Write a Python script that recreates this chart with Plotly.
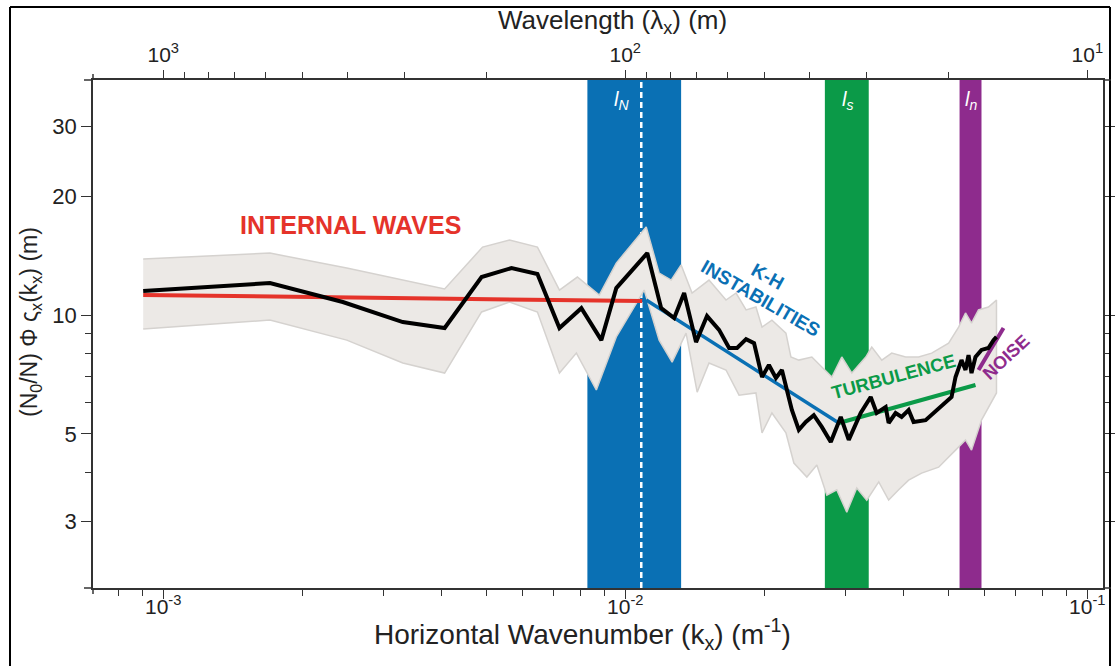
import numpy as np
import plotly.graph_objects as go

# ---------------- data ----------------
k_mean = [0.000905, 0.001702, 0.002447, 0.003300, 0.004065, 0.004887, 0.005673, 0.006455,
          0.007204, 0.008035, 0.008875, 0.009563, 0.01116, 0.01196, 0.01276, 0.01341,
          0.01423, 0.01503, 0.01596, 0.01678, 0.01746, 0.01826, 0.01900, 0.01977,
          0.02046, 0.02119, 0.02183, 0.02294, 0.02375, 0.02459, 0.02559, 0.02663,
          0.02785, 0.02927, 0.03046, 0.03233, 0.03398, 0.03501, 0.03661, 0.03716,
          0.03847, 0.03964, 0.04105, 0.04208, 0.04467, 0.04934, 0.05084, 0.05186,
          0.05343, 0.05450, 0.05533, 0.05616, 0.05728, 0.05902, 0.06110, 0.06266, 0.06360]
v_mean = [11.50, 12.05, 10.79, 9.60, 9.27, 12.48, 13.15, 12.70,
          9.27, 10.41, 8.64, 11.70, 14.35, 10.41, 9.83, 11.37,
          8.54, 9.94, 9.17, 8.25, 8.25, 8.69, 8.49, 6.97,
          7.47, 6.93, 7.26, 5.75, 5.12, 5.36, 5.58, 5.21,
          4.77, 5.52, 4.83, 5.65, 6.20, 5.65, 5.85, 5.33,
          5.65, 5.52, 5.75, 5.36, 5.42, 5.99, 6.20, 6.97,
          7.69, 7.26, 7.92, 7.13, 7.83, 8.16, 8.25, 8.64, 8.80]

k_upper = [0.000905, 0.001702, 0.002496, 0.004065, 0.004911, 0.005617, 0.006455, 0.007204,
           0.007877, 0.008786, 0.009563, 0.01110, 0.01184, 0.01257, 0.01321, 0.01395,
           0.01518, 0.01652, 0.01737, 0.01826, 0.01918, 0.01977, 0.02077, 0.02227,
           0.02283, 0.02375, 0.02534, 0.02663, 0.02800, 0.02942, 0.03093, 0.03316,
           0.03416, 0.03591, 0.03773, 0.04045, 0.04315, 0.04605, 0.05010, 0.05266,
           0.05450, 0.05616, 0.05815, 0.06110, 0.06360]
v_upper = [13.86, 14.35, 13.15, 11.64, 14.86, 15.48, 14.86, 11.57,
           12.48, 11.24, 13.54, 16.70, 12.77, 12.26, 13.39, 11.37,
           12.26, 10.91, 11.37, 10.30, 10.48, 9.32, 9.71, 9.00,
           7.83, 7.69, 7.83, 7.38, 6.97, 7.83, 7.13, 7.83,
           8.30, 7.69, 8.01, 7.83, 7.83, 8.01, 8.49, 9.32,
           10.12, 9.54, 10.30, 10.48, 10.91]

k_lower = [0.000905, 0.001702, 0.002496, 0.003300, 0.004065, 0.004887, 0.005617, 0.006455,
           0.007204, 0.007838, 0.008658, 0.009563, 0.01099, 0.01184, 0.01263, 0.01354,
           0.01431, 0.01518, 0.01652, 0.01763, 0.01918, 0.01977, 0.02077, 0.02227,
           0.02317, 0.02472, 0.02598, 0.02731, 0.02870, 0.03016, 0.03170, 0.03332,
           0.03537, 0.03716, 0.03906, 0.04105, 0.04380, 0.04767, 0.05186, 0.05450,
           0.05616, 0.05902, 0.06360]
v_lower = [9.22, 9.71, 8.64, 7.56, 7.13, 10.18, 10.79, 10.18,
           7.13, 8.01, 6.46, 8.80, 11.57, 8.64, 7.60, 9.00,
           6.38, 7.56, 7.26, 6.27, 6.35, 5.03, 5.65, 5.03,
           4.22, 3.89, 4.17, 3.50, 3.61, 3.17, 3.65, 3.40,
           3.78, 3.40, 3.61, 3.82, 3.98, 4.12, 4.55, 4.83,
           4.55, 5.42, 6.35]

iw_k = [0.000905, 0.01088]      # internal waves fit
iw_v = [11.24, 10.85]
kh_k = [0.01110, 0.02899]       # K-H instabilities fit
kh_v = [10.91, 5.33]
turb_k = [0.02899, 0.05728]     # turbulence fit
turb_v = [5.33, 6.65]
noise_k = [0.05815, 0.06586]    # noise fit
noise_v = [7.26, 9.27]

band_lN = [0.00828, 0.01321]
band_ls = [0.02704, 0.03365]
band_ln = [0.05291, 0.05902]
lN_line = 0.01083

x_tickvals = [1e-3, 1e-2, 1e-1]
x_ticktext = ["10<sup>-3</sup>", "10<sup>-2</sup>", "10<sup>-1</sup>"]
lam_tickvals = [1000, 100, 10]
lam_ticktext = ["10<sup>3</sup>", "10<sup>2</sup>", "10<sup>1</sup>"]
lam_minor = [900, 800, 700, 600, 500, 400, 300, 200, 90, 80, 70, 60, 50, 40, 30, 20]
y_tickvals = [3, 5, 10, 20, 30]
y_minor = [4, 6, 7, 8, 9]

# ---------------- colours ----------------
C_RED = "#e5332a"
C_BLUE = "#0a70b4"
C_GREEN = "#0b9a48"
C_PURPLE = "#8e2b8d"
C_FILL = "#ece9e6"
C_EDGE = "#d5d2cf"
FONT = "Liberation Sans, Arial, sans-serif"
TXT = "#222222"
AX = "#333333"

# pixel helpers for paper coordinates (plot area 93..1103 x 80..588)
L, R, T, B = 93, 1103, 80, 588
def px(x):
    return (x - L) / (R - L)
def py(y):
    return (B - y) / (B - T)

fig = go.Figure()

# uncertainty envelope
fig.add_trace(go.Scatter(
    x=k_upper + k_lower[::-1], y=v_upper + v_lower[::-1],
    mode="lines", fill="toself", fillcolor=C_FILL,
    line=dict(color=C_EDGE, width=1.5), hoverinfo="skip", showlegend=False))

for kk, vv, col, w in [(iw_k, iw_v, C_RED, 4), (kh_k, kh_v, C_BLUE, 3.5),
                       (turb_k, turb_v, C_GREEN, 4), (noise_k, noise_v, C_PURPLE, 4)]:
    fig.add_trace(go.Scatter(x=kk, y=vv, mode="lines",
                             line=dict(color=col, width=w), showlegend=False))

fig.add_trace(go.Scatter(x=k_mean, y=v_mean, mode="lines",
                         line=dict(color="black", width=4), showlegend=False))

# invisible trace so the top (wavelength) axis is drawn
fig.add_trace(go.Scatter(x=[lam_tickvals[0]], y=[10], xaxis="x2", mode="markers",
                         marker=dict(opacity=0), showlegend=False, hoverinfo="skip"))

shapes = []
for band, col in [(band_lN, C_BLUE), (band_ls, C_GREEN), (band_ln, C_PURPLE)]:
    shapes.append(dict(type="rect", xref="x", yref="paper", x0=band[0], x1=band[1],
                       y0=0, y1=1, fillcolor=col, line=dict(width=0), layer="below"))
shapes.append(dict(type="line", xref="x", yref="paper", x0=lN_line, x1=lN_line, y0=0, y1=1,
                   line=dict(color="white", width=2.5, dash="6px,4px"), layer="below"))
# outer frame of the figure
shapes.append(dict(type="line", xref="paper", yref="paper", x0=px(10), x1=px(1110),
                   y0=py(7), y1=py(7), line=dict(color="black", width=2)))
shapes.append(dict(type="line", xref="paper", yref="paper", x0=px(10), x1=px(10),
                   y0=py(7), y1=py(700), line=dict(color="black", width=2)))
shapes.append(dict(type="line", xref="paper", yref="paper", x0=px(1110), x1=px(1110),
                   y0=py(7), y1=py(700), line=dict(color="black", width=2)))
# small overhangs of the axis lines at the corners
for (xa, ya, xb, yb) in [(84, 80, 93, 80), (93, 74, 93, 80), (84, 588, 93, 588),
                         (93, 588, 93, 594), (1103, 588, 1111, 588), (1103, 80, 1111, 80)]:
    shapes.append(dict(type="line", xref="paper", yref="paper", x0=px(xa), x1=px(xb),
                       y0=py(ya), y1=py(yb), line=dict(color=AX, width=1.5)))

lg = np.log10
C = dict(xanchor="center", yanchor="middle", showarrow=False)
ann = []
ann.append(dict(x=lg(0.00254), y=lg(16.9), xref="x", yref="y", text="<b>INTERNAL WAVES</b>",
                font=dict(family=FONT, size=25, color=C_RED), **C))
ann.append(dict(x=lg(0.02036), y=lg(12.55), xref="x", yref="y", text="<b>K-H</b>",
                textangle=29, font=dict(family=FONT, size=19, color=C_BLUE), **C))
ann.append(dict(x=lg(0.01967), y=lg(11.04), xref="x", yref="y", text="<b>INSTABILITIES</b>",
                textangle=30, font=dict(family=FONT, size=19, color=C_BLUE), **C))
ann.append(dict(x=lg(0.0381), y=lg(6.97), xref="x", yref="y", text="<b>TURBULENCE</b>",
                textangle=-15, font=dict(family=FONT, size=18.5, color=C_GREEN), **C))
ann.append(dict(x=lg(0.0668), y=lg(7.83), xref="x", yref="y", text="<b>NOISE</b>",
                textangle=-43, font=dict(family=FONT, size=18, color=C_PURPLE), **C))
for kx, lab in [(0.0098, "N"), (0.0302, "s"), (0.0559, "n")]:
    ann.append(dict(x=lg(kx), y=py(100), xref="x", yref="paper",
                    text=f"<i>l<sub>{lab}</sub></i>",
                    font=dict(family=FONT, size=20, color="white"), **C))
# axis titles
ann.append(dict(x=px(582), y=py(634), xref="paper", yref="paper",
                text="Horizontal Wavenumber (k<sub>x</sub>) (m<sup>-1</sup>)",
                font=dict(family=FONT, size=28, color=TXT), **C))
ann.append(dict(x=px(612), y=py(22), xref="paper", yref="paper",
                text="Wavelength (λ<sub>x</sub>) (m)",
                font=dict(family=FONT, size=26, color=TXT), **C))
ann.append(dict(x=px(30), y=py(322), xref="paper", yref="paper", textangle=-90,
                text="(N<sub>0</sub>/N) Φ ς<sub>x</sub>(k<sub>x</sub>) (m)",
                font=dict(family=FONT, size=23, color=TXT), **C))

xr = [-3.152, -0.966]
minor_k = [m * 10.0 ** e for e in (-4, -3, -2, -1) for m in range(2, 10)]
fig.update_layout(
    width=1115, height=666,
    margin=dict(l=L, r=1115 - R, t=T, b=666 - B, autoexpand=False),
    paper_bgcolor="white", plot_bgcolor="white",
    shapes=shapes, annotations=ann, showlegend=False,
    xaxis=dict(type="log", range=xr, showgrid=False, zeroline=False, automargin=False,
               showline=True, linecolor=AX, linewidth=1.5,
               ticks="outside", ticklen=9, tickcolor=AX, ticklabelstandoff=-10,
               tickvals=x_tickvals, ticktext=x_ticktext,
               tickfont=dict(family=FONT, size=21, color=TXT),
               minor=dict(tickvals=minor_k, ticks="outside", ticklen=6, tickcolor=AX)),
    xaxis2=dict(type="log", overlaying="x", side="top", range=[-v for v in xr],
                autorange=False, showgrid=False, zeroline=False, automargin=False,
                showline=True, linecolor=AX, linewidth=1.5,
                ticks="outside", ticklen=8, tickcolor=AX,
                tickvals=lam_tickvals, ticktext=lam_ticktext,
                tickfont=dict(family=FONT, size=21, color=TXT),
                minor=dict(tickvals=lam_minor, ticks="outside", ticklen=6, tickcolor=AX)),
    yaxis=dict(type="log", range=[0.309, 1.595], showgrid=False, zeroline=False,
               automargin=False,
               showline=True, linecolor=AX, linewidth=1.5, mirror="ticks",
               ticks="outside", ticklen=10, tickcolor=AX,
               tickvals=y_tickvals, ticktext=[str(v) for v in y_tickvals],
               tickfont=dict(family=FONT, size=22, color=TXT),
               minor=dict(tickvals=y_minor, ticks="outside", ticklen=6, tickcolor=AX)),
)

fig.write_html("out.html", config={"displayModeBar": False},
               post_script="document.body.style.margin='0';")
